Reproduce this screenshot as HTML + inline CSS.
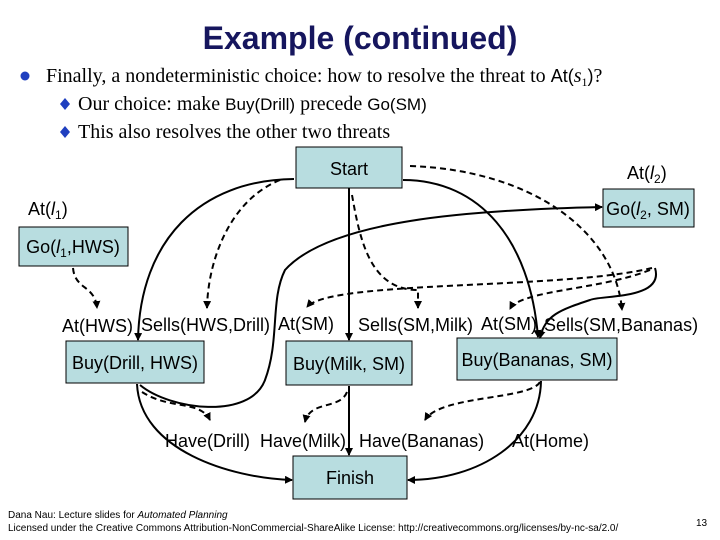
<!DOCTYPE html>
<html><head><meta charset="utf-8"><style>
body{margin:0;background:#fff;}
svg{display:block}
.a{font-family:"Liberation Sans",sans-serif;font-size:18px;fill:#000}
.t{font-family:"Liberation Serif",serif;font-size:20px;fill:#000}
.bx{fill:#b8dde0;stroke:#000;stroke-width:1}
.s{fill:none;stroke:#000;stroke-width:2}
.d{fill:none;stroke:#000;stroke-width:2;stroke-dasharray:6,4}
</style></head><body>
<svg width="720" height="540" viewBox="0 0 720 540">
<defs><marker id="m" markerWidth="8" markerHeight="8" refX="7" refY="4" orient="auto" markerUnits="userSpaceOnUse"><path d="M0,0 L8,4 L0,8 z" fill="#000"/></marker></defs>
<text x="360" y="49" text-anchor="middle" style="font-family:'Liberation Sans',sans-serif;font-weight:bold;font-size:32px;fill:#16165e">Example (continued)</text>
<circle cx="25" cy="76" r="4.5" fill="#1f3fbf"/>
<text class="t" x="46" y="82">Finally, a nondeterministic choice: how to resolve the threat to <tspan style="font-family:'Liberation Sans';font-size:18px">At(</tspan><tspan font-style="italic">s</tspan><tspan font-size="12" dy="4">1</tspan><tspan dy="-4" style="font-family:'Liberation Sans';font-size:18px">)</tspan>?</text>
<path d="M65,98 L70,104 L65,110 L60,104z" fill="#1f3fbf"/>
<text class="t" x="78" y="110">Our choice: make <tspan style="font-family:'Liberation Sans';font-size:17px">Buy(Drill)</tspan> precede <tspan style="font-family:'Liberation Sans';font-size:17px">Go(SM)</tspan></text>
<path d="M65,126 L70,132 L65,138 L60,132z" fill="#1f3fbf"/>
<text class="t" x="78" y="138">This also resolves the other two threats</text>

<rect class="bx" x="296" y="147" width="106" height="41"/><text class="a" x="349" y="175" text-anchor="middle">Start</text>
<rect class="bx" x="603" y="189" width="91" height="38"/><text class="a" x="648" y="215" text-anchor="middle">Go(<tspan font-style="italic">l</tspan><tspan font-size="12" dy="4">2</tspan><tspan dy="-4">, SM)</tspan></text>
<rect class="bx" x="19" y="227" width="109" height="39"/><text class="a" x="73" y="253" text-anchor="middle">Go(<tspan font-style="italic">l</tspan><tspan font-size="12" dy="4">1</tspan><tspan dy="-4">,HWS)</tspan></text>
<rect class="bx" x="66" y="341" width="138" height="42"/><text class="a" x="135" y="369" text-anchor="middle">Buy(Drill, HWS)</text>
<rect class="bx" x="286" y="341" width="126" height="44"/><text class="a" x="349" y="370" text-anchor="middle">Buy(Milk, SM)</text>
<rect class="bx" x="457" y="338" width="160" height="42"/><text class="a" x="537" y="366" text-anchor="middle">Buy(Bananas, SM)</text>
<rect class="bx" x="293" y="456" width="114" height="43"/><text class="a" x="350" y="484" text-anchor="middle">Finish</text>

<text class="a" x="627" y="179">At(<tspan font-style="italic">l</tspan><tspan font-size="12" dy="4">2</tspan><tspan dy="-4">)</tspan></text>
<text class="a" x="28" y="215">At(<tspan font-style="italic">l</tspan><tspan font-size="12" dy="4">1</tspan><tspan dy="-4">)</tspan></text>
<text class="a" x="62" y="332">At(HWS)</text>
<text class="a" x="141" y="331">Sells(HWS,Drill)</text>
<text class="a" x="278" y="330">At(SM)</text>
<text class="a" x="358" y="331">Sells(SM,Milk)</text>
<text class="a" x="481" y="330">At(SM)</text>
<text class="a" x="544" y="331">Sells(SM,Bananas)</text>
<text class="a" x="165" y="447">Have(Drill)</text>
<text class="a" x="260" y="447">Have(Milk)</text>
<text class="a" x="359" y="447">Have(Bananas)</text>
<text class="a" x="512" y="447">At(Home)</text>

<path class="s" d="M294,179 C200,180 140,240 138,340" marker-end="url(#m)"/>
<path class="d" d="M280,180 C230,200 208,260 207,308" marker-end="url(#m)"/>
<path class="s" d="M349,188 L349,340" marker-end="url(#m)"/>
<path class="d" d="M352,195 C360,240 370,290 418,290 L418,308" marker-end="url(#m)"/>
<path class="s" d="M403,180 C480,180 530,240 538,337" marker-end="url(#m)"/>
<path class="d" d="M410,166 C530,170 615,230 622,310" marker-end="url(#m)"/>
<path class="s" d="M140,385 C170,410 250,420 265,380 C280,340 270,300 285,270 C330,220 470,210 602,207" marker-end="url(#m)"/>
<path class="d" d="M652,268 C560,290 330,280 307,307" marker-end="url(#m)"/>
<path class="d" d="M650,270 C600,290 520,290 510,309" marker-end="url(#m)"/>
<path class="s" d="M655,268 C665,300 600,295 590,300 C560,310 545,315 540,338" marker-end="url(#m)"/>
<path class="d" d="M73,268 C75,290 95,285 97,308" marker-end="url(#m)"/>
<path class="s" d="M137,384 C140,450 230,478 292,480" marker-end="url(#m)"/>
<path class="d" d="M142,392 C170,410 200,400 210,420" marker-end="url(#m)"/>
<path class="s" d="M349,386 L349,455" marker-end="url(#m)"/>
<path class="d" d="M347,392 C340,410 310,400 305,422" marker-end="url(#m)"/>
<path class="d" d="M540,382 C530,400 440,395 425,420" marker-end="url(#m)"/>
<path class="s" d="M541,381 C540,440 480,480 408,480" marker-end="url(#m)"/>

<text x="8" y="518" style="font-family:'Liberation Sans',sans-serif;font-size:10px">Dana Nau: Lecture slides for <tspan font-style="italic">Automated Planning</tspan></text>
<text x="8" y="531" style="font-family:'Liberation Sans',sans-serif;font-size:10px">Licensed under the Creative Commons Attribution-NonCommercial-ShareAlike License: http://creativecommons.org/licenses/by-nc-sa/2.0/</text>
<text x="696" y="526" style="font-family:'Liberation Sans',sans-serif;font-size:10px">13</text>
</svg>
</body></html>
